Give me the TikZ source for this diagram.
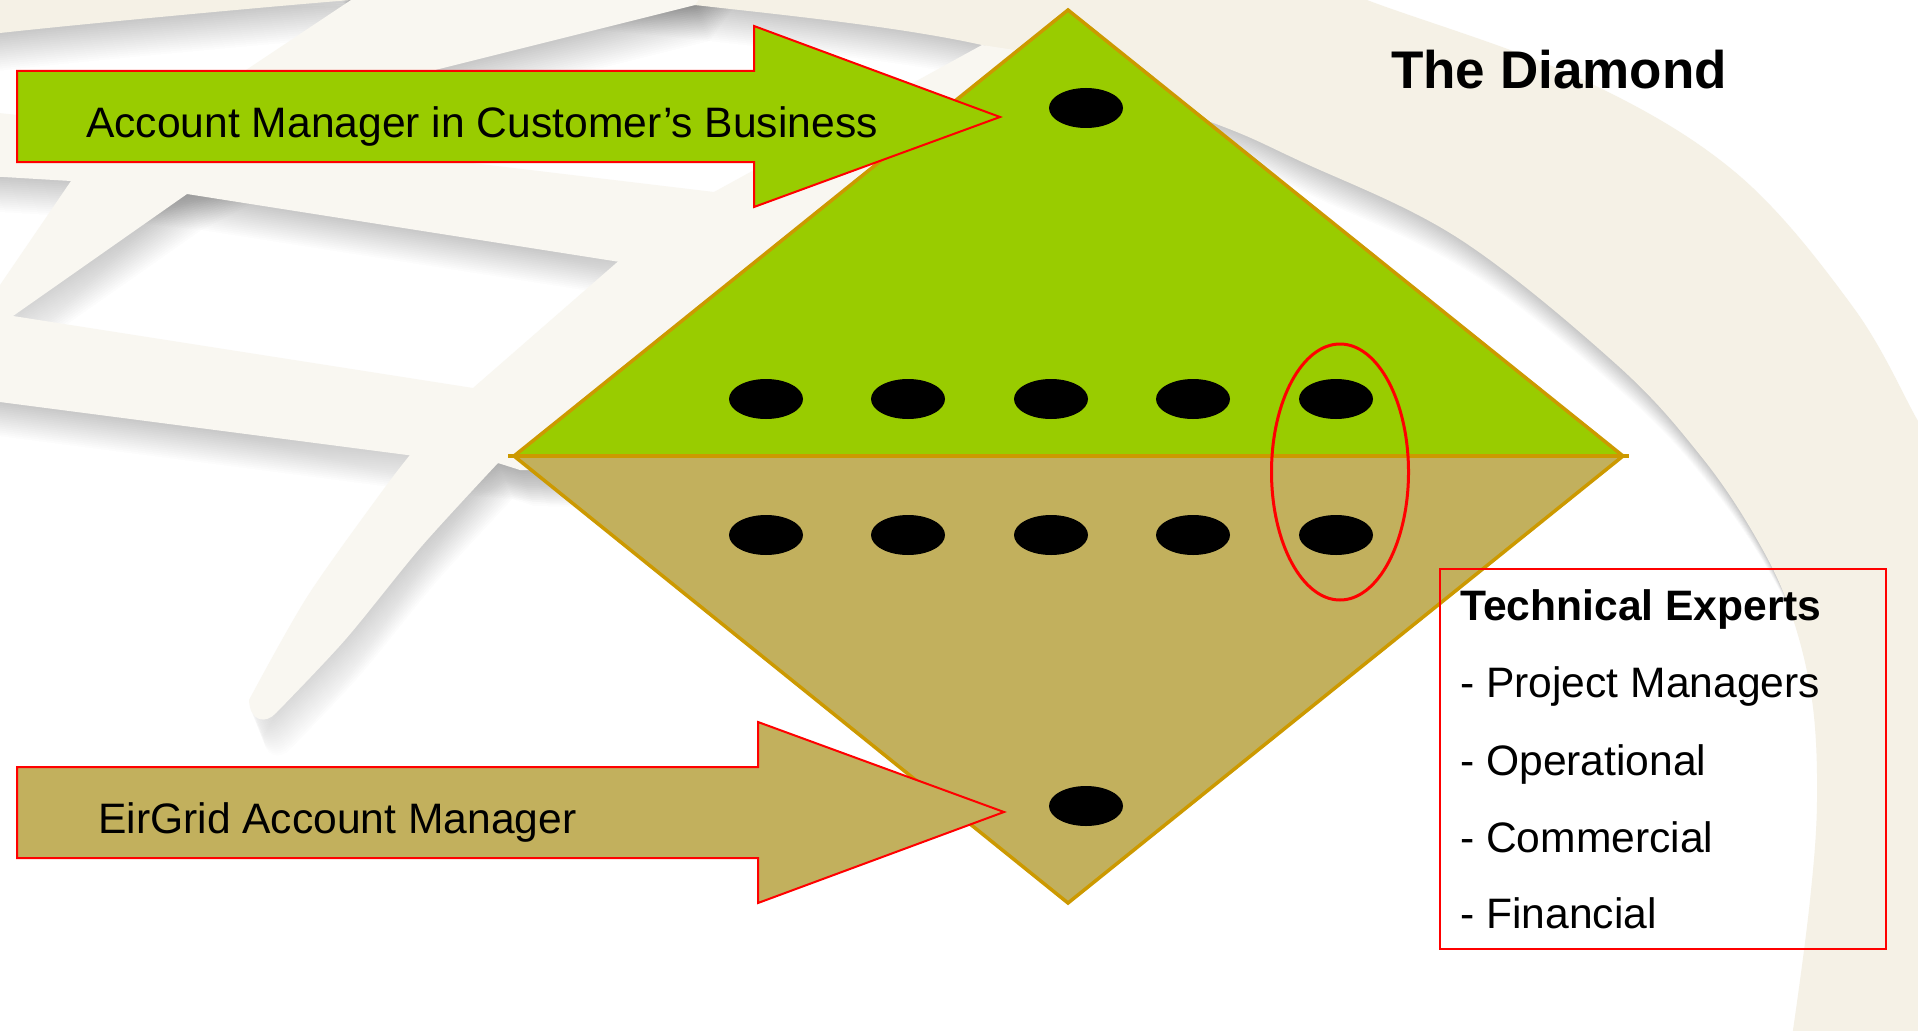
\documentclass[tikz,border=0pt]{standalone}
\usepackage{fontspec}
\setmainfont{Liberation Sans}
\usetikzlibrary{shapes.geometric,calc}

\definecolor{leaf}{HTML}{99CC00}
\definecolor{khaki}{HTML}{C2B05D}
\definecolor{goldline}{HTML}{CC9900}
\definecolor{rimbeige}{HTML}{F5F1E6}
\definecolor{bandbeige}{HTML}{F9F7F1}
\definecolor{shade}{HTML}{A4A4AC}

% soft drop shadow of a background shape: stacked faint copies pushed down-right
\newcommand\softshade[1]{%
  \foreach \k in {2,4,...,36} {
    \fill[shade, opacity=0.008, shift={(0.4*\k,\k)}] #1;
  }}

% globe decoration: outer rim ring
\def\rimP{plot[smooth, tension=0.6] coordinates {(-40,44) (0,33) (351,0) (520,-8) (695,5) (982,45) (1200,118) (1300,161) (1458,238) (1616,364) (1700,455) (1755,536) (1790,610) (1812,700) (1817,800) (1810,900) (1793,1030) (1785,1070)} -- (1960,1070) -- (1960,460) -- plot[smooth, tension=0.6] coordinates {(1940,455) (1918,421) (1853,307) (1735,172) (1577,77) (1367,0) (1300,-30)} -- (-40,-30) -- cycle}
% longitude band, upper left
\def\lbaP{(330,-30) -- (720,-30) -- (695,5) -- (435,70) -- (300,135) -- (187,194) -- (13,316) -- (-30,345) -- (-30,300) -- (0,285) -- (71,181) -- (160,110) -- (246,70) -- (351,0) -- cycle}
% latitude bands
\def\btwoP{(-30,110) -- (430,158) -- (714,192) -- (800,200) -- (800,290) -- (620,262) -- (187,194) -- (71,181) -- (-30,175) -- cycle}
\def\bthreeP{(-30,296) -- (13,316) -- (473,388) -- (560,400) -- (560,470) -- (498,463) -- (415,456) -- (0,402) -- (-30,398) -- cycle}
% long curved longitude band reaching down to the lower left
\def\lbbP{(982,45) -- (1080,60) -- (1080,480) -- (520,470) -- (498,463) -- plot[smooth] coordinates {(498,463) (421,547) (345,640) (276,713)} .. controls (266,724) and (250,722) .. (249,700) -- plot[smooth] coordinates {(249,700) (307,597) (383,490) (414,450)} -- (473,388) -- (622,258) -- (714,192) -- cycle}

\begin{document}
\begin{tikzpicture}[x=1pt, y=-1pt,
  lbl/.style={anchor=base west, inner sep=0pt, font=\fontsize{42.6}{50}\selectfont},
  head/.style={anchor=base west, inner sep=0pt, font=\fontsize{42.6}{50}\selectfont\bfseries},
  dot/.style={ellipse, fill=black, minimum width=74, minimum height=40, inner sep=0pt},
  blockarrow/.style={draw=red, line width=2, line join=miter},
  edge/.style={draw=goldline, line width=3.5}]

\useasboundingbox (0,0) rectangle (1918,1030);

% ---------- background globe ----------
\begin{scope}
  \clip (0,0) rectangle (1918,1030);
  \fill[white] (0,0) rectangle (1918,1030);
  \softshade{\rimP}
  \softshade{\lbaP}
  \softshade{\btwoP}
  \softshade{\bthreeP}
  \softshade{\lbbP}
  \fill[rimbeige] \rimP;
  \fill[bandbeige] \btwoP;
  \fill[bandbeige] \bthreeP;
  \fill[bandbeige] \lbaP;
  \fill[bandbeige] \lbbP;
\end{scope}

% ---------- the diamond ----------
\coordinate (dT) at (1068,10);
\coordinate (dL) at (514,456);
\coordinate (dR) at (1623,456);
\coordinate (dB) at (1068,903);
\fill[leaf] (dT) -- (dL) -- (dR) -- cycle;
\fill[khaki] (dL) -- (dR) -- (dB) -- cycle;
\draw[edge] (dT) -- (dR) -- (dB) -- (dL) -- cycle;
\draw[edge] ($(dL)+(-6,0)$) -- ($(dR)+(6,0)$);

% ---------- people ----------
\node[dot] (top) at (1086,108) {};
\foreach \i/\x in {1/766, 2/908, 3/1051, 4/1193, 5/1336} {
  \node[dot] (u\i) at (\x,399) {};
  \node[dot] (l\i) at (\x,535) {};
}
\node[dot] (bot) at (1086,806) {};

% highlighted pair
\node[ellipse, draw=red, line width=3, minimum width=137, minimum height=256, inner sep=0pt] (pair) at (1340,472) {};

% ---------- block arrows ----------
\coordinate (aT1) at (17,71);
\coordinate (aT2) at (754,71);
\coordinate (aT3) at (754,26);
\coordinate (aTtip) at (1000,117);
\coordinate (aT4) at (754,207);
\coordinate (aT5) at (754,162);
\coordinate (aT6) at (17,162);
\filldraw[blockarrow, fill=leaf] (aT1) -- (aT2) -- (aT3) -- (aTtip) -- (aT4) -- (aT5) -- (aT6) -- cycle;

\coordinate (aB1) at (17,767);
\coordinate (aB2) at (758,767);
\coordinate (aB3) at (758,722);
\coordinate (aBtip) at (1004,812);
\coordinate (aB4) at (758,903);
\coordinate (aB5) at (758,858);
\coordinate (aB6) at (17,858);
\filldraw[blockarrow, fill=khaki] (aB1) -- (aB2) -- (aB3) -- (aBtip) -- (aB4) -- (aB5) -- (aB6) -- cycle;

\node[lbl] (accTop) at (86,138) {Account Manager in Customer’s Business};
\node[lbl] (accBot) at (98,833) {EirGrid Account Manager};

% ---------- title ----------
\node[anchor=base west, inner sep=0pt, font=\fontsize{53}{60}\selectfont\bfseries] (title) at (1391,89) {The Diamond};

% ---------- experts box ----------
\node[draw=red, line width=2, anchor=north west, minimum width=446, minimum height=380, inner sep=0pt] (box) at (1439,568) {};
\node[head] (tech) at (1460,620) {Technical Experts};
\node[lbl] (it1) at (1460,697) {- Project Managers};
\node[lbl] (it2) at (1460,775) {- Operational};
\node[lbl] (it3) at (1460,852) {- Commercial};
\node[lbl] (it4) at (1460,928) {- Financial};

\end{tikzpicture}
\end{document}
